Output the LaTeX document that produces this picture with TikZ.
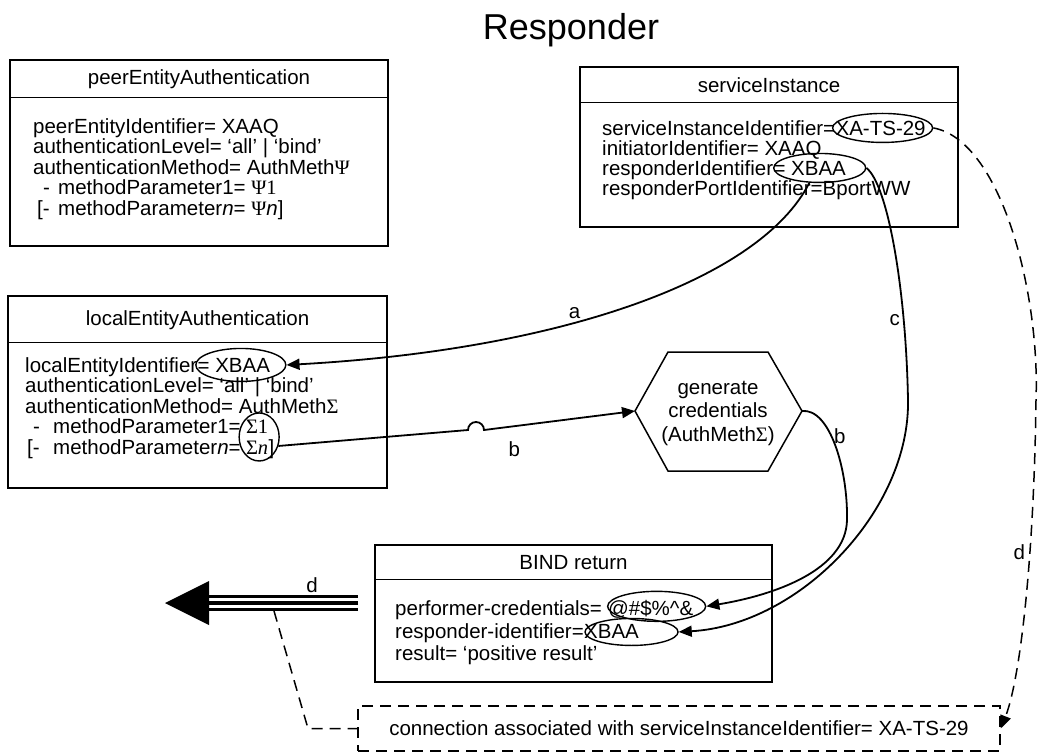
\documentclass[tikz,border=0pt]{standalone}
\usepackage{fontspec}
\setmainfont{Liberation Sans}
\newfontfamily\greekfont{Liberation Serif}
\usetikzlibrary{arrows.meta,positioning,shapes.geometric}
\tikzset{
  every picture/.style={font=\fontsize{20.5}{24}\selectfont},
  entity box/.style={draw, line width=1.5pt, inner sep=0pt},
  entity rule/.style={line width=1.5pt},
  entity head/.style={inner sep=0pt},
  entity line/.style={anchor=base west, inner sep=0pt},
  mark ring/.style={draw, ellipse, line width=1.4pt, inner sep=0pt, minimum height=29pt},
  flow/.style={line width=1.8pt, -{Triangle[length=13pt,width=11pt]}},
  flow label/.style={inner sep=1pt},
  dash flow/.style={line width=1.5pt, dash pattern=on 11pt off 7pt},
  triple line/.style={line width=16pt, postaction={draw=white, line width=10pt},
    postaction={draw=black, line width=4pt}}
}
\newcommand{\Gk}[1]{{\greekfont #1}}

\begin{document}
\begin{tikzpicture}[x=1pt,y=-1pt]
  \useasboundingbox (0,0) rectangle (1039,755);
  \node (title) at (571,30) {\fontsize{36}{40}\selectfont Responder};

  % peer entity authentication
  \node[entity box, minimum width=378pt, minimum height=186pt] (peer) at (199,153) {};
  \draw[entity rule] ([yshift=-38pt]peer.north west) -- ([yshift=-38pt]peer.north east);
  \node[entity head] (peerHead) at (199,79) {peerEntityAuthentication};
  \node[entity line] (peer1) at (33,133) {peerEntityIdentifier= XAAQ};
  \node[entity line] (peer2) at (33,153.5) {authenticationLevel= ‘all’ | ‘bind’};
  \node[entity line] (peer3) at (33,174) {authenticationMethod= AuthMeth\Gk{Ψ}};
  \node[entity line] (peer4a) at (43,194.5) {-};
  \node[entity line] (peer4b) at (58,194.5) {methodParameter1= \Gk{Ψ1}};
  \node[entity line] (peer5a) at (37,215) {[-};
  \node[entity line] (peer5b) at (58,215) {methodParameter\textit{n}= \Gk{Ψ}\textit{n}]};

  % service instance
  \node[entity box, minimum width=378pt, minimum height=160pt] (svc) at (769,147) {};
  \draw[entity rule] ([yshift=-36pt]svc.north west) -- ([yshift=-36pt]svc.north east);
  \node[entity head] (svcHead) at (769,85) {serviceInstance};
  \node[entity line] (svc1) at (602,135) {serviceInstanceIdentifier=};
  \node[entity line] (svc1v) at (svc1.base east) {XA-TS-29};
  \node[entity line] (svc2) at (602,155) {initiatorIdentifier= XAAQ};
  \node[entity line] (svc3) at (602,175) {responderIdentifier};
  \node[entity line] (svc3v) at (svc3.base east) {= XBAA};
  \node[entity line] (svc4) at (602,195) {responderPortIdentifier=BportWW};
  \node[mark ring, minimum width=100pt] (svcIdRing) at ([xshift=2pt]svc1v.center) {};
  \node[mark ring, minimum width=92pt] (svcXBAA) at ([xshift=10pt]svc3v.center) {};

  % local entity authentication
  \node[entity box, minimum width=379pt, minimum height=192pt] (loc) at (197.5,392) {};
  \draw[entity rule] ([yshift=-47pt]loc.north west) -- ([yshift=-47pt]loc.north east);
  \node[entity head] (locHead) at (197.5,320) {localEntityAuthentication};
  \node[entity line] (loc1) at (25,372) {localEntityIdentifier};
  \node[entity line] (loc1v) at (loc1.base east) {= XBAA};
  \node[entity line] (loc2) at (25,392.5) {authenticationLevel= ‘all’ | ‘bind’};
  \node[entity line] (loc3) at (25,413) {authenticationMethod= AuthMeth\Gk{Σ}};
  \node[entity line] (loc4a) at (33,433.5) {-};
  \node[entity line] (loc4b) at (53,433.5) {methodParameter1=};
  \node[entity line] (loc4v) at ([xshift=5pt]loc4b.base east) {\Gk{Σ1}};
  \node[entity line] (loc5a) at (27,454) {[-};
  \node[entity line] (loc5b) at (53,454) {methodParameter\textit{n}=};
  \node[entity line] (loc5v) at ([xshift=5pt]loc5b.base east) {\Gk{Σ\textit{n}}};
  \node[entity line] (loc5c) at (loc5v.base east) {]};
  \node[mark ring, minimum width=90pt, minimum height=33pt] (locXBAA) at ([xshift=7pt]loc1v.center) {};
  \node[mark ring, minimum width=40pt, minimum height=48pt] (locSig) at ([xshift=2pt,yshift=-10.25pt]loc4v.center) {};

  % generate credentials
  \node[align=center, inner sep=0pt, font=\fontsize{20.5}{23.5}\selectfont] (gen) at (718,413)
    {generate\\credentials\\(AuthMeth\Gk{Σ})};
  \coordinate (genW) at (635,411);
  \coordinate (genE) at (802,411);
  \draw[entity rule] (genW) -- (668,352) -- (768,352) -- (genE) -- (768,471) -- (668,471) -- cycle;

  % BIND return
  \node[entity box, minimum width=397pt, minimum height=137pt] (bind) at (573.5,613.5) {};
  \draw[entity rule] ([yshift=-35pt]bind.north west) -- ([yshift=-35pt]bind.north east);
  \node[entity head] (bindHead) at (573.5,563) {BIND return};
  \node[entity line] (bind1) at (395,615.5) {performer-credentials=};
  \node[entity line] (bind1v) at ([xshift=5.7pt]bind1.base east) {@\#\$\%\textasciicircum\&};
  \node[entity line] (bind2) at (395,638) {responder-identifier=};
  \node[entity line] (bind2v) at (bind2.base east) {XBAA};
  \node[entity line] (bind3) at (395,660.5) {result= ‘positive result’};
  \node[mark ring, minimum width=98pt, minimum height=30pt] (bindCred) at ([xshift=6pt,yshift=3pt]bind1v.center) {};
  \node[mark ring, minimum width=93pt, minimum height=27pt] (bindXBAA) at ([xshift=20pt,yshift=-1pt]bind2v.center) {};

  % connection box
  \node[draw, dash flow, inner sep=0pt, minimum width=642pt, minimum height=45pt] (conn) at (679,728.5)
    {connection associated with serviceInstanceIdentifier= XA-TS-29};

  % a, b, c
  \draw[flow] (svcXBAA.235) .. controls (760,280) and (560,350) .. (locXBAA.east)
    node[flow label, pos=0.6, above=2pt] {a};
  \draw[flow] (locSig.-25) -- (468,430) arc[start angle=180, end angle=0, radius=8pt]
    -- (genW) node[flow label, pos=0.2, below=14pt] {b};
  \draw[flow] (genE) .. controls (830,408) and (848,470) .. (847,520)
    node[flow label, pos=0.42, right=1pt] {b}
    .. controls (846,570) and (775,595) .. (bindCred.east);
  \draw[flow] (svcXBAA.east) .. controls (888,185) and (906,290) .. (908,400)
    node[flow label, pos=0.75, left=2pt] {c}
    .. controls (910,510) and (800,625) .. (bindXBAA.east);

  % d
  \coordinate (dStart) at (358,603);
  \coordinate (dBase) at (209,603);
  \coordinate (dTip) at (165,603);
  \draw[triple line] (dStart) -- (dBase);
  \fill (dTip) -- ([yshift=22pt]dBase) -- ([yshift=-22pt]dBase) -- cycle;
  \node[flow label] (dLeft) at (312,585) {d};
  \coordinate (dDrop) at (274,611);
  \draw[dash flow] (dDrop) -- (308,728.5) -- (conn.west);
  \draw[dash flow, -{Triangle[length=13pt,width=11pt]}] (svcIdRing.east)
    .. controls (1000,140) and (1040,290) .. (1036,400)
    .. controls (1034,560) and (1020,680) .. (conn.east)
    node[flow label, pos=0.35, left=3pt] {d};
\end{tikzpicture}
\end{document}
